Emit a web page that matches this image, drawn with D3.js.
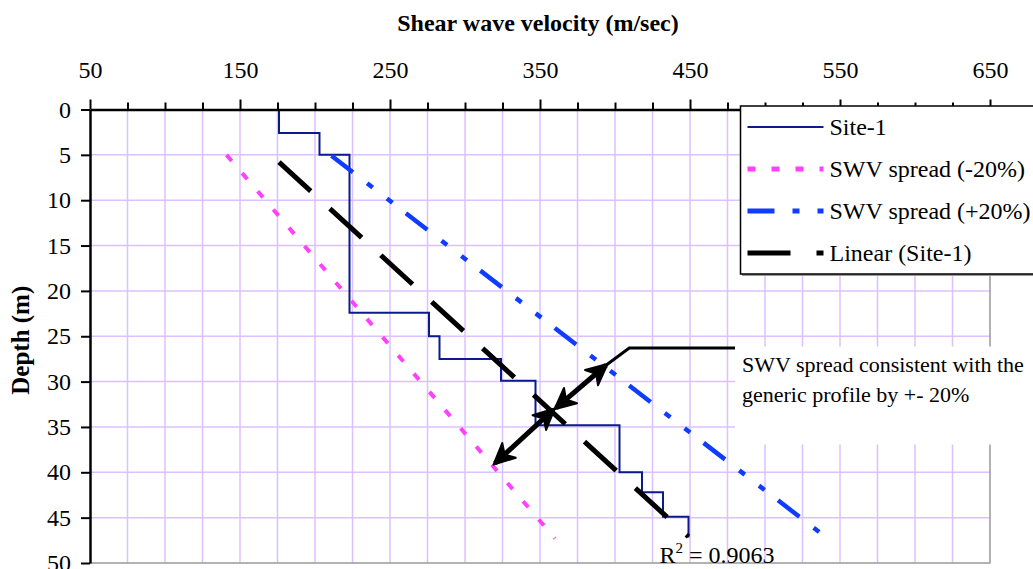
<!DOCTYPE html>
<html>
<head>
<meta charset="utf-8">
<script src="https://cdn.jsdelivr.net/npm/d3@7"></script>
<style>
  body{margin:0;background:#fff;}
  svg{display:block;}
</style>
</head>
<body>
<div id="chart"></div>
<script>
// Site-1 profile: top depth (m) and shear wave velocity (m/sec) of each layer
var layerTop = [0, 2.6, 5, 22.4, 25, 27.5, 29.9, 34.8, 40, 42.2, 44.9];
var layerVs  = [176, 203, 223, 276, 283, 324, 347, 403, 418, 432, 449];
var bottomDepth = 47.2;

// trend line and the +-20% spread lines (end points)
var linearVs = [176, 449],  linearDepth = [5.8, 47.1];
var lowVs    = [141, 360],  lowDepth    = [5.0, 47.3];
var highVs   = [211, 537],  highDepth   = [5.1, 46.7];

var xTicks = [50, 150, 250, 350, 450, 550, 650];
var yTicks = [0, 5, 10, 15, 20, 25, 30, 35, 40, 45, 50];
var seriesNames = ["Site-1", "SWV spread (-20%)", "SWV spread (+20%)", "Linear (Site-1)"];
var r2Value = "0.9063";

// arrows of the note (velocity, depth)
var arrowUp   = [[360.7, 32.9], [394, 28.2]];
var arrowDown = [[320, 39.0], [358.9, 33.1]];
var callout   = [[394, 28.2], [409.5, 26.3], [480, 26.3]];
var noteLines = ["SWV spread consistent with the", "generic profile by +- 20%"];

var FONT = "'Liberation Serif', 'Times New Roman', serif";
var width = 1033, height = 569;
var svg = d3.select("#chart").append("svg").attr("width", width).attr("height", height);

var x = d3.scaleLinear().domain([50, 650]).range([90, 990]);
var y = d3.scaleLinear().domain([0, 50]).range([109.5, 563]);

var gridColor = "#dcc0ff";

// grid
var grid = svg.append("g");
grid.selectAll(".gx").data(d3.range(75, 650, 25)).enter().append("line")
  .attr("x1", function(d){ return x(d); }).attr("x2", function(d){ return x(d); })
  .attr("y1", y(0)).attr("y2", y(50))
  .attr("stroke", gridColor).attr("stroke-width", 1.5);
grid.selectAll(".gy").data(d3.range(5, 50, 5)).enter().append("line")
  .attr("x1", x(50)).attr("x2", x(650))
  .attr("y1", function(d){ return y(d); }).attr("y2", function(d){ return y(d); })
  .attr("stroke", gridColor).attr("stroke-width", 1.5);
// plot border (right / bottom)
svg.append("path")
  .attr("d", "M" + x(650) + "," + y(0) + "V" + y(50) + "H" + x(50))
  .attr("fill", "none").attr("stroke", "#999").attr("stroke-width", 1.5);

var line = d3.line()
  .x(function(d){ return x(d[0]); })
  .y(function(d){ return y(d[1]); });

// Site-1 step profile
var profile = [];
for (var i = 0; i < layerVs.length; i++) {
  var bottom = i < layerVs.length - 1 ? layerTop[i + 1] : bottomDepth;
  profile.push([layerVs[i], layerTop[i]]);
  profile.push([layerVs[i], bottom]);
}
svg.append("path").attr("d", line(profile))
  .attr("fill", "none").attr("stroke", "#0b1b8f").attr("stroke-width", 2);

function pairs(vs, ds){ return vs.map(function(v, k){ return [v, ds[k]]; }); }

var styles = [
  {color: "#0b1b8f", width: 2, dash: null},
  {color: "#ff40ff", width: 4, dash: "8,16"},
  {color: "#0f3cff", width: 4.5, dash: "27,18,7,18,7,17"},
  {color: "#000", width: 5, dash: "43,26"}
];

svg.append("path").attr("d", line(pairs(lowVs, lowDepth)))
  .attr("fill", "none").attr("stroke", styles[1].color).attr("stroke-width", styles[1].width)
  .attr("stroke-dasharray", styles[1].dash);
svg.append("path").attr("d", line(pairs(highVs, highDepth)))
  .attr("fill", "none").attr("stroke", styles[2].color).attr("stroke-width", styles[2].width)
  .attr("stroke-dasharray", styles[2].dash);
svg.append("path").attr("d", line(pairs(linearVs, linearDepth)))
  .attr("fill", "none").attr("stroke", styles[3].color).attr("stroke-width", styles[3].width)
  .attr("stroke-dasharray", styles[3].dash);

// R^2 label
var r2 = svg.append("text")
  .attr("x", x(linearVs[1]) - 29).attr("y", y(linearDepth[1]) + 26)
  .attr("font-size", 24);
r2.append("tspan").text("R");
r2.append("tspan").attr("font-size", 15).attr("dy", -10).text("2");
r2.append("tspan").attr("dy", 10).text(" = " + r2Value);

// axes
var xAxis = svg.append("g").attr("transform", "translate(0," + y(0) + ")")
  .call(d3.axisTop(x).tickValues(xTicks).tickSizeInner(10).tickSizeOuter(0).tickPadding(22));
var xMinor = svg.append("g").attr("transform", "translate(0," + y(0) + ")")
  .call(d3.axisTop(x).tickValues(d3.range(75, 650, 25).filter(function(v){ return (v - 50) % 100 !== 0; }))
    .tickSize(7).tickFormat(""));
xMinor.select(".domain").remove();
var yAxis = svg.append("g").attr("transform", "translate(" + x(50) + ",0)")
  .call(d3.axisLeft(y).tickValues(yTicks).tickSizeInner(9).tickSizeOuter(0).tickPadding(10));

[xAxis, xMinor, yAxis].forEach(function(g){
  g.selectAll(".domain").attr("stroke", "#000").attr("stroke-width", 2.5);
  g.selectAll(".tick line").attr("stroke", "#000").attr("stroke-width", 2);
  g.selectAll(".tick text").attr("fill", "#000").style("font-size", "24px");
});

svg.append("text").attr("x", 538).attr("y", 31).attr("text-anchor", "middle")
  .attr("font-size", 24).attr("font-weight", "bold").text("Shear wave velocity (m/sec)");
svg.append("text").attr("transform", "translate(28.5," + ((y(0) + y(50)) / 2 + 4) + ") rotate(-90)")
  .attr("text-anchor", "middle").attr("font-size", 25).attr("font-weight", "bold").text("Depth (m)");

// note box
var noteX = x(callout[2][0]), noteY = y(callout[2][1]);
svg.append("rect").attr("x", noteX).attr("y", noteY - 1.5).attr("width", 300).attr("height", 98)
  .attr("fill", "#fff");
svg.selectAll(".note").data(noteLines).enter().append("text")
  .attr("x", noteX + 7).attr("y", function(d, k){ return noteY + 23.5 + k * 30; })
  .attr("font-size", 22).text(function(d){ return d; });

svg.append("path").attr("d", line(callout))
  .attr("fill", "none").attr("stroke", "#000").attr("stroke-width", 3);

var defs = svg.append("defs");
defs.append("marker").attr("id", "head")
  .attr("viewBox", "-22 -12 26 24").attr("refX", 0).attr("refY", 0)
  .attr("markerWidth", 26).attr("markerHeight", 24)
  .attr("markerUnits", "userSpaceOnUse").attr("orient", "auto-start-reverse")
  .append("path").attr("d", "M2,0 L-19,-10 L-13,0 L-19,10 Z").attr("fill", "#000")
  .attr("stroke", "#000").attr("stroke-width", 2).attr("stroke-linejoin", "round");

[arrowUp, arrowDown].forEach(function(a){
  svg.append("path").attr("d", line(a))
    .attr("fill", "none").attr("stroke", "#000").attr("stroke-width", 5)
    .attr("marker-start", "url(#head)").attr("marker-end", "url(#head)");
});

// legend
var lg = svg.append("g").attr("transform", "translate(740.5,106)");
lg.append("rect").attr("x", 1.5).attr("y", 2).attr("width", 300).attr("height", 168).attr("fill", "#999");
lg.append("rect").attr("width", 300).attr("height", 168)
  .attr("fill", "#fff").attr("stroke", "#000").attr("stroke-width", 1.5);
var item = lg.selectAll(".item").data(seriesNames).enter().append("g")
  .attr("transform", function(d, k){ return "translate(0," + (21 + k * 42) + ")"; });
item.append("line").attr("x1", 7).attr("x2", 83)
  .attr("stroke", function(d, k){ return styles[k].color; })
  .attr("stroke-width", function(d, k){ return k === 0 ? 2 : 5; })
  .attr("stroke-dasharray", function(d, k){ return styles[k].dash; });
item.append("text").attr("x", 89).attr("dy", "0.33em").attr("font-size", 24)
  .text(function(d){ return d; });

// serif face on every text, set inline so nothing overrides it
svg.selectAll("text, tspan").style("font-family", FONT);
</script>
</body>
</html>
